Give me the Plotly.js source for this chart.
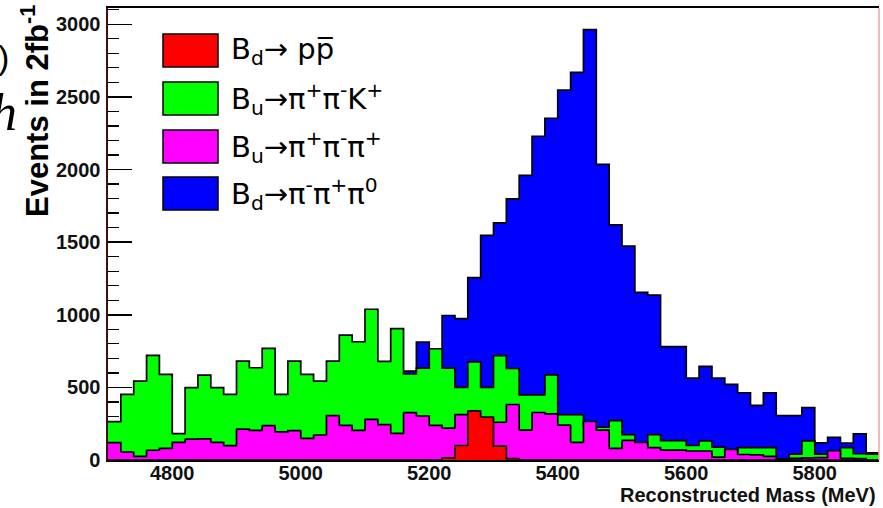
<!DOCTYPE html>
<html>
<head>
<meta charset="utf-8">
<script src="https://cdn.plot.ly/plotly-3.0.1.min.js"></script>
<style>html,body{margin:0;padding:0;background:#fff;}#chart{width:883px;height:508px;}</style>
</head>
<body>
<div id="chart"></div>
<script>
// Histogram binning (MeV)
const massLow = 4700;
const binWidth = 20;
const nBins = 60;

// Series (events per 20 MeV bin, 2 fb^-1)
const bdPiPiPi0 = [10,10,12,15,18,20,25,28,30,35,40,45,50,60,70,85,100,120,150,190,240,300,380,
  612,812,740,995,973,1255,1546,1633,1798,1959,2229,2353,2546,2669,2963,2036,1619,1472,1154,1135,
  780,780,564,644,564,521,463,376,463,306,306,361,118,156,117,180,50];
const buPiPiK = [264,452,543,720,589,181,498,585,498,452,
  681,635,768,452,681,589,543,681,860,814,
  1038,679,904,592,633,766,633,500,676,500,
  719,630,448,448,586,312,312,240,227,271,
  175,100,175,133,133,100,131,88,55,85,
  85,85,8,41,131,41,41,85,43,41];
const buPiPiPi = [119,55,25,67,80,122,144,146,122,99,
  213,204,236,193,202,149,172,305,239,204,
  280,243,183,326,303,239,220,312,300,260,
  260,382,206,327,318,240,122,266,206,80,
  135,122,85,68,68,62,62,20,73,38,
  35,25,5,12,15,16,64,12,10,0];
const bdPPbar = [0,0,0,0,0,0,0,0,0,0,
  0,0,0,0,0,0,0,0,0,0,
  0,0,0,0,0,0,15,100,338,296,
  95,10,0,0,0,0,0,0,0,0,
  0,0,0,0,0,0,0,0,0,0,
  0,0,0,0,0,0,0,0,0,0];

const seriesNames = [
  'B<sub>d</sub>→ pp\u0305',
  'B<sub>u</sub>→π<sup>+</sup>π<sup>-</sup>K<sup>+</sup>',
  'B<sub>u</sub>→π<sup>+</sup>π<sup>-</sup>π<sup>+</sup>',
  'B<sub>d</sub>→π<sup>-</sup>π<sup>+</sup>π<sup>0</sup>'
];
const seriesColors = ['#ff0000', '#00ff00', '#ff00ff', '#0000ff'];

const edges = [];
for (let i = 0; i <= nBins; i++) edges.push(massLow + i * binWidth);

function histTrace(vals, color) {
  return {
    type: 'scatter', mode: 'lines',
    x: edges, y: vals.concat([vals[vals.length - 1]]),
    line: {shape: 'hv', color: '#000', width: 1.7},
    fill: 'tozeroy', fillcolor: color,
    showlegend: false, hoverinfo: 'skip'
  };
}

// drawing order: blue behind, then green, magenta, red in front
const data = [
  histTrace(bdPiPiPi0, seriesColors[3]),
  histTrace(buPiPiK, seriesColors[1]),
  histTrace(buPiPiPi, seriesColors[2]),
  histTrace(bdPPbar, seriesColors[0])
];

// pixel helpers for decorations (plot area 108..879 x 8..460)
const L = 108, R = 879, T = 8, B = 460;
const px = x => (x - L) / (R - L);
const py = y => (B - y) / (B - T);

const shapes = [];
const annotations = [];
const boxTops = [34, 82, 130, 177];
for (let k = 0; k < 4; k++) {
  shapes.push({type: 'rect', xref: 'paper', yref: 'paper',
    x0: px(163), x1: px(218), y0: py(boxTops[k] + 33), y1: py(boxTops[k]),
    fillcolor: seriesColors[k], line: {color: '#000', width: 1.5}});
  annotations.push({xref: 'paper', yref: 'paper', x: px(229), y: py(boxTops[k] + 17),
    xanchor: 'left', yanchor: 'middle', showarrow: false, text: seriesNames[k],
    font: {family: 'DejaVu Sans, Liberation Sans, sans-serif', size: 29, color: '#000'}});
}
// right frame edge
shapes.push({type: 'line', xref: 'paper', yref: 'paper', x0: 1, x1: 1, y0: 0, y1: 1,
  line: {color: '#f0a0a0', width: 1.5}});

annotations.push({xref: 'paper', yref: 'paper', x: px(35), y: py(3), xanchor: 'center', yanchor: 'top',
  textangle: -90, showarrow: false, text: 'Events in 2fb<sup>-1</sup>',
  font: {family: 'Liberation Sans, Arial, sans-serif', size: 31, color: '#000', weight: 'bold'}});
annotations.push({xref: 'paper', yref: 'paper', x: px(878), y: py(495), xanchor: 'right', yanchor: 'middle',
  showarrow: false, text: 'Reconstructed Mass (MeV)',
  font: {family: 'Liberation Sans, Arial, sans-serif', size: 20, color: '#111', weight: 'bold'}});
// fragments of surrounding slide text at the left edge
annotations.push({xref: 'paper', yref: 'paper', x: px(11), y: py(57), xanchor: 'right', yanchor: 'middle',
  showarrow: false, text: ')', font: {family: 'Liberation Sans, sans-serif', size: 34, color: '#000'}});
annotations.push({xref: 'paper', yref: 'paper', x: px(19), y: py(112), xanchor: 'right', yanchor: 'middle',
  showarrow: false, text: '<i>h</i>', font: {family: 'Liberation Serif, serif', size: 52, color: '#000'}});

const tickFont = {family: 'Liberation Sans, Arial, sans-serif', size: 20, color: '#111', weight: 'bold'};

const layout = {
  width: 883, height: 508,
  margin: {l: L, r: 883 - R, t: T, b: 508 - B},
  paper_bgcolor: '#fff', plot_bgcolor: '#fff',
  showlegend: false,
  xaxis: {
    range: [4700, 5900], tick0: 4800, dtick: 200,
    ticks: 'inside', ticklen: 12, tickwidth: 1.5, tickcolor: '#000',
    minor: {ticks: 'inside', ticklen: 6, dtick: 50, tickcolor: '#000'},
    showgrid: false, zeroline: false,
    showline: true, linecolor: '#000', linewidth: 1.6, mirror: true,
    tickfont: tickFont, layer: 'below traces', ticklabelstandoff: -6
  },
  yaxis: {
    range: [0, 3112], tick0: 0, dtick: 500,
    ticks: 'inside', ticklen: 24, tickwidth: 1.5, tickcolor: '#000',
    minor: {ticks: 'inside', ticklen: 11, dtick: 100, tickcolor: '#000', tickwidth: 1.3},
    showgrid: false, zeroline: false,
    showline: true, linecolor: '#3a1010', linewidth: 1.6, mirror: false,
    tickfont: tickFont, layer: 'below traces', ticklabelstandoff: 2
  },
  shapes: shapes,
  annotations: annotations
};

Plotly.newPlot('chart', data, layout, {staticPlot: true, displayModeBar: false});
</script>
</body>
</html>
